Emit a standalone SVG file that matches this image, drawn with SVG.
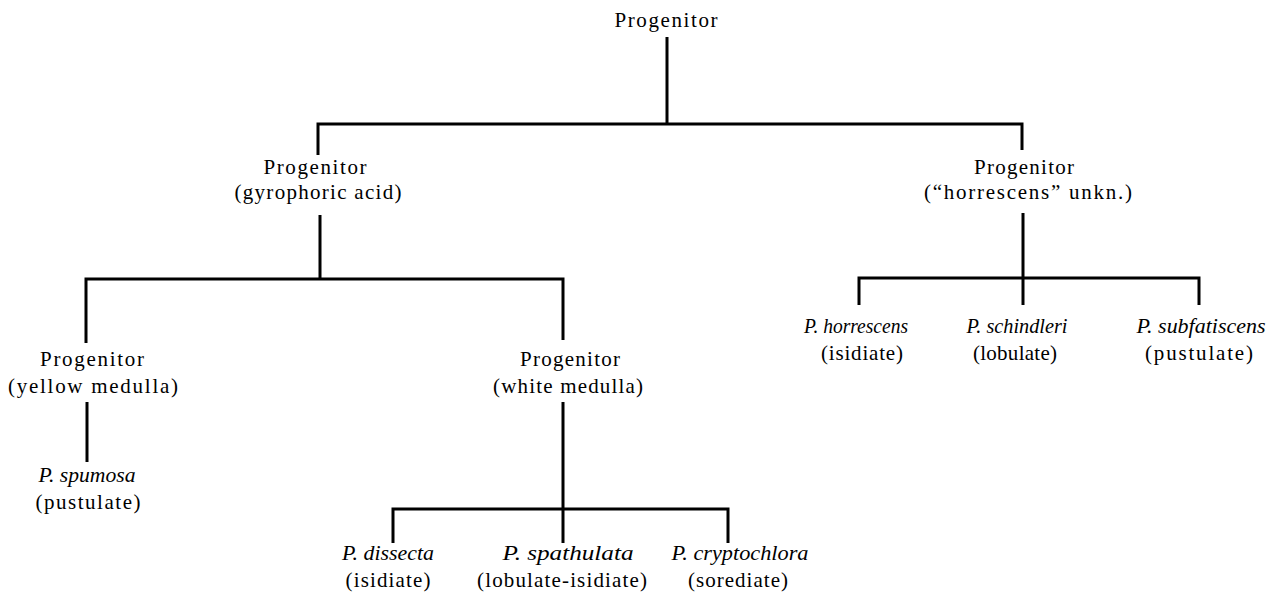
<svg xmlns="http://www.w3.org/2000/svg" width="1276" height="597" viewBox="0 0 1276 597">
<style>
text{font-family:"Liberation Serif","Times New Roman",serif;font-size:21px;text-anchor:middle;fill:#000}
.i{font-style:italic;font-size:20.5px}
#connectors path{stroke:#000;stroke-width:3;fill:none}
</style>
<rect width="1276" height="597" fill="#fff"/>
<g id="connectors">
<path d="M667 37V124M318 155V124H1022V150"/>
<path d="M320 215V279M86 343V279H563V340"/>
<path d="M1023 213V278M859 305V278H1199V305M1023 278V305"/>
<path d="M87 402V462"/>
<path d="M563 402V543M393 543V509H728V543"/>
</g>
<g id="root"><text x="666" y="27" textLength="103">Progenitor</text></g>
<g id="gyro"><text x="315" y="174" textLength="103">Progenitor</text><text x="318" y="199" textLength="167">(gyrophoric acid)</text></g>
<g id="horr"><text x="1024" y="174" textLength="100">Progenitor</text><text x="1028" y="199" textLength="208">(“horrescens” unkn.)</text></g>
<g id="yellow"><text x="92" y="366" textLength="104">Progenitor</text><text x="93" y="393" textLength="170">(yellow medulla)</text></g>
<g id="white"><text x="570" y="366" textLength="100">Progenitor</text><text x="568" y="393" textLength="150">(white medulla)</text></g>
<g id="spumosa"><text class="i" x="87" y="482" textLength="97" lengthAdjust="spacingAndGlyphs">P. spumosa</text><text x="88" y="509" textLength="105">(pustulate)</text></g>
<g id="dissecta"><text class="i" x="388" y="560" textLength="92" lengthAdjust="spacingAndGlyphs">P. dissecta</text><text x="388" y="587" textLength="85">(isidiate)</text></g>
<g id="spathulata"><text class="i" x="568" y="560" textLength="131" lengthAdjust="spacingAndGlyphs">P. spathulata</text><text x="562" y="587" textLength="170">(lobulate-isidiate)</text></g>
<g id="cryptochlora"><text class="i" x="740" y="560" textLength="137" lengthAdjust="spacingAndGlyphs">P. cryptochlora</text><text x="738" y="587" textLength="100">(sorediate)</text></g>
<g id="horrescens"><text class="i" x="856" y="333" textLength="104" lengthAdjust="spacingAndGlyphs">P. horrescens</text><text x="862" y="360" textLength="82">(isidiate)</text></g>
<g id="schindleri"><text class="i" x="1017" y="333" textLength="101" lengthAdjust="spacingAndGlyphs">P. schindleri</text><text x="1015" y="360" textLength="84">(lobulate)</text></g>
<g id="subfatiscens"><text class="i" x="1201" y="333" textLength="129" lengthAdjust="spacingAndGlyphs">P. subfatiscens</text><text x="1199" y="360" textLength="108">(pustulate)</text></g>
</svg>
